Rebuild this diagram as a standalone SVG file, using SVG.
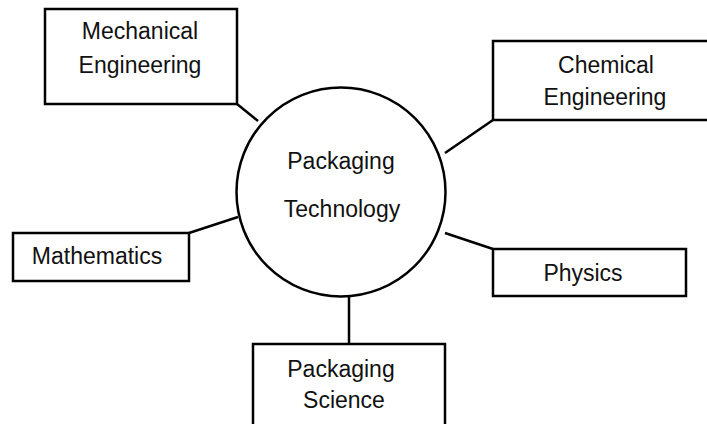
<svg xmlns="http://www.w3.org/2000/svg" width="707" height="424" viewBox="0 0 707 424">
<style>
.box{fill:#fff;stroke:#000;stroke-width:2.5}
.ln{stroke:#000;stroke-width:2.5;fill:none}
text{font-family:"Liberation Sans",Arial,sans-serif;font-size:23px;fill:#111;text-anchor:middle}
</style>
<rect width="707" height="424" fill="#fff"/>
<g id="connectors">
<line class="ln" x1="237" y1="104" x2="258" y2="121"/>
<line class="ln" x1="493" y1="120" x2="445" y2="153"/>
<line class="ln" x1="189" y1="233" x2="238" y2="217"/>
<line class="ln" x1="493" y1="249" x2="445" y2="233"/>
<line class="ln" x1="349" y1="297" x2="349" y2="344"/>
</g>
<g id="center">
<circle class="box" cx="341" cy="192" r="104.5"/>
<text x="341" y="169">Packaging</text>
<text x="342" y="217">Technology</text>
</g>
<g id="mechanical">
<rect class="box" x="45" y="9" width="192" height="95"/>
<text x="140" y="39">Mechanical</text>
<text x="140" y="73">Engineering</text>
</g>
<g id="chemical">
<rect class="box" x="493" y="41" width="230" height="79"/>
<text x="606" y="73">Chemical</text>
<text x="605" y="105">Engineering</text>
</g>
<g id="mathematics">
<rect class="box" x="13" y="233" width="176" height="48"/>
<text x="97" y="264">Mathematics</text>
</g>
<g id="physics">
<rect class="box" x="493" y="249" width="193" height="47"/>
<text x="583" y="281">Physics</text>
</g>
<g id="science">
<rect class="box" x="253" y="344" width="192" height="95"/>
<text x="341" y="377">Packaging</text>
<text x="344" y="408">Science</text>
</g>
</svg>
